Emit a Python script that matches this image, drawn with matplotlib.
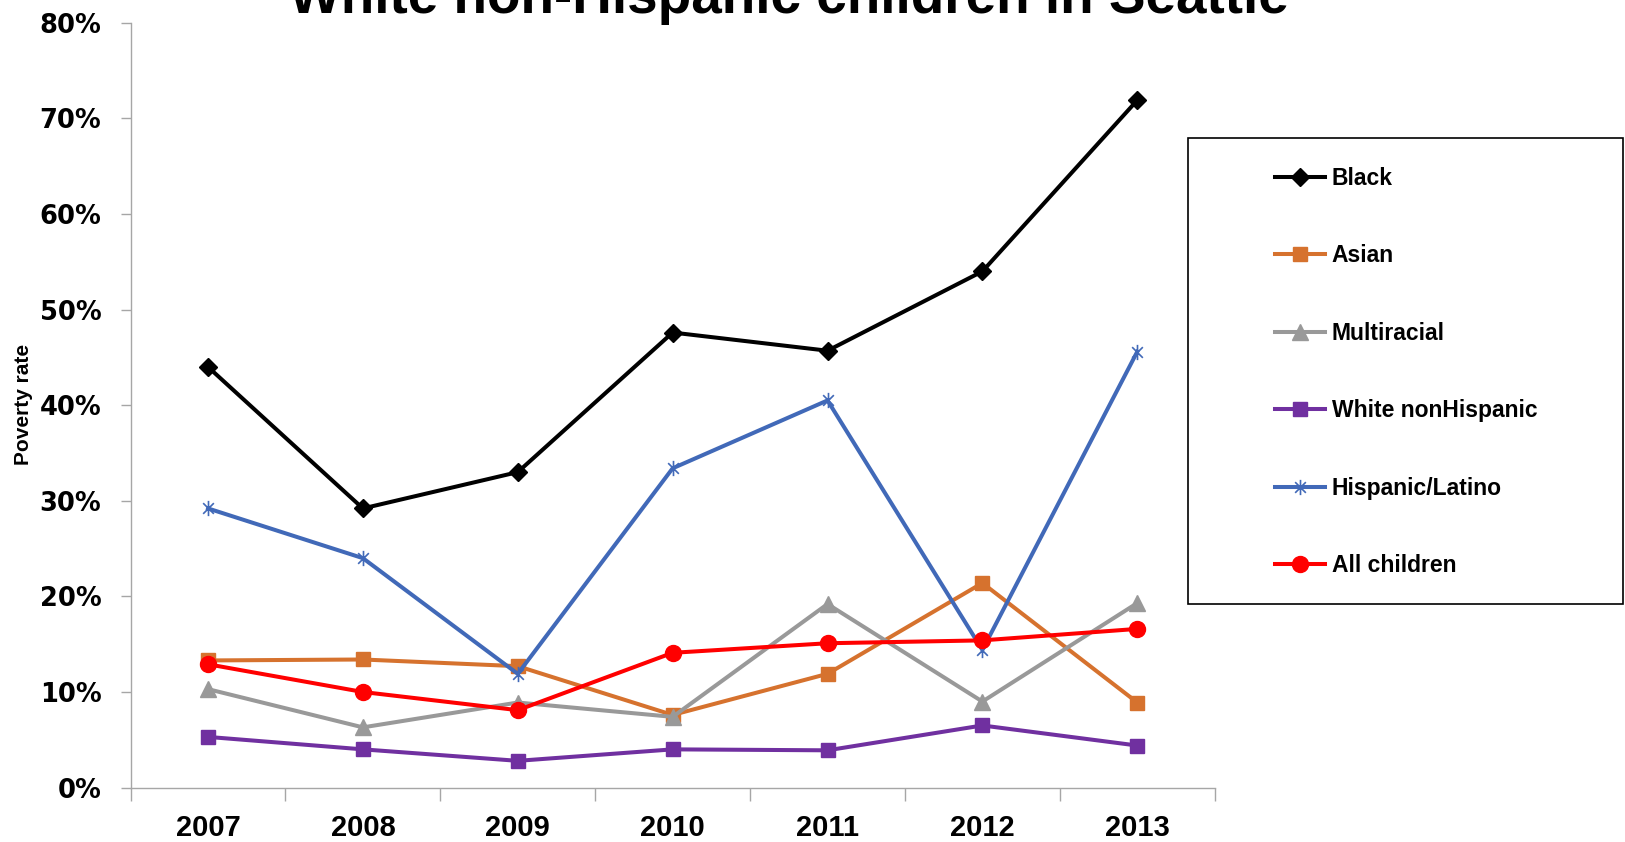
import matplotlib
matplotlib.use("Agg")
import matplotlib.pyplot as plt
from matplotlib.path import Path
from matplotlib.patches import Rectangle
from matplotlib.ticker import PercentFormatter

years = ["2007", "2008", "2009", "2010", "2011", "2012", "2013"]
black = [44.0, 29.2, 33.0, 47.6, 45.7, 54.0, 71.9]
asian = [13.3, 13.4, 12.7, 7.6, 11.9, 21.4, 8.9]
multiracial = [10.3, 6.3, 8.9, 7.4, 19.2, 9.0, 19.3]
white = [5.3, 4.0, 2.8, 4.0, 3.9, 6.5, 4.4]
hispanic = [29.2, 24.0, 11.9, 33.4, 40.5, 14.4, 45.6]
all_children = [12.9, 10.0, 8.1, 14.1, 15.1, 15.4, 16.6]

W, H = 1625, 842
fig = plt.figure(figsize=(W / 100, H / 100), dpi=100)
ax = fig.add_axes([130.6 / W, 1 - 787.6 / H, (1214.7 - 130.6) / W, (787.6 - 22.8) / H])

x = list(range(len(years)))
asterisk = Path([(0, -1), (0, 1), (-0.7, -0.7), (0.7, 0.7), (-0.7, 0.7), (0.7, -0.7)],
                [Path.MOVETO, Path.LINETO, Path.MOVETO, Path.LINETO, Path.MOVETO, Path.LINETO])

lw = 2.9
series = [
    ("Black", black, "#000000", "D", 9.5, {}),
    ("Asian", asian, "#D6722E", "s", 10.5, {}),
    ("Multiracial", multiracial, "#999999", "^", 12, {}),
    ("White nonHispanic", white, "#7030A0", "s", 10.5, {}),
    ("Hispanic/Latino", hispanic, "#4169B8", asterisk, 11, {"markerfacecolor": "none", "markeredgewidth": 1.2}),
    ("All children", all_children, "#FF0000", "o", 11.5, {}),
]
handles = []
for name, vals, col, mk, ms, extra in series:
    h, = ax.plot(x, vals, color=col, lw=lw, marker=mk, markersize=ms,
                 markeredgecolor=col, markerfacecolor=extra.get("markerfacecolor", col),
                 markeredgewidth=extra.get("markeredgewidth", 1.0), label=name, zorder=3)
    handles.append(h)

ax.set_xlim(-0.5, len(years) - 0.5)
ax.set_ylim(0, 80)
ax.set_yticks(range(0, 81, 10))
ax.yaxis.set_major_formatter(PercentFormatter(decimals=0))
ax.set_xticks(x)
ax.set_xticklabels(years)
ax.set_xticks([i - 0.5 for i in range(len(years) + 1)], minor=True)
ax.tick_params(axis="x", which="major", length=0, pad=19)
ax.tick_params(axis="x", which="minor", length=9, width=1, color="#A6A6A6", direction="out")
ax.tick_params(axis="y", which="major", length=7, width=1, color="#A6A6A6", pad=14)
for s in ["top", "right"]:
    ax.spines[s].set_visible(False)
for s in ["left", "bottom"]:
    ax.spines[s].set_color("#A6A6A6")
    ax.spines[s].set_linewidth(1)

for lab in ax.get_yticklabels():
    lab.set_fontfamily("DejaVu Sans")
    lab.set_fontweight("bold")
    lab.set_fontsize(18.5)
for lab in ax.get_xticklabels():
    lab.set_fontfamily(["Liberation Sans", "DejaVu Sans"])
    lab.set_fontweight("bold")
    lab.set_fontsize(21)

ax.set_ylabel("Poverty rate", fontsize=15, fontfamily=["Liberation Sans", "DejaVu Sans"],
              fontweight="bold")
ax.yaxis.set_label_coords(-98 / 1084, (787.6 - 404) / (787.6 - 22.8))

fig.text(789 / W, 1 - 13 / H, "White non-Hispanic children in Seattle", ha="center", va="baseline",
         fontsize=39.5, fontweight="bold", fontfamily=["Liberation Sans", "DejaVu Sans"])

# legend frame
fig.patches.append(Rectangle((1187.7 / W, 1 - 604 / H), (1623 - 1187.7) / W, (604 - 137.8) / H,
                             transform=fig.transFigure, fill=False, edgecolor="black", lw=1.2))
leg = fig.legend(handles=handles, loc="upper left", bbox_to_anchor=(1254 / W, 1 - 146 / H),
                 frameon=False, prop={"family": ["Liberation Sans", "DejaVu Sans"], "weight": "bold", "size": 16.5},
                 handlelength=2.2, handletextpad=0.3, labelspacing=2.38)

fig.savefig("out.png", dpi=100)
